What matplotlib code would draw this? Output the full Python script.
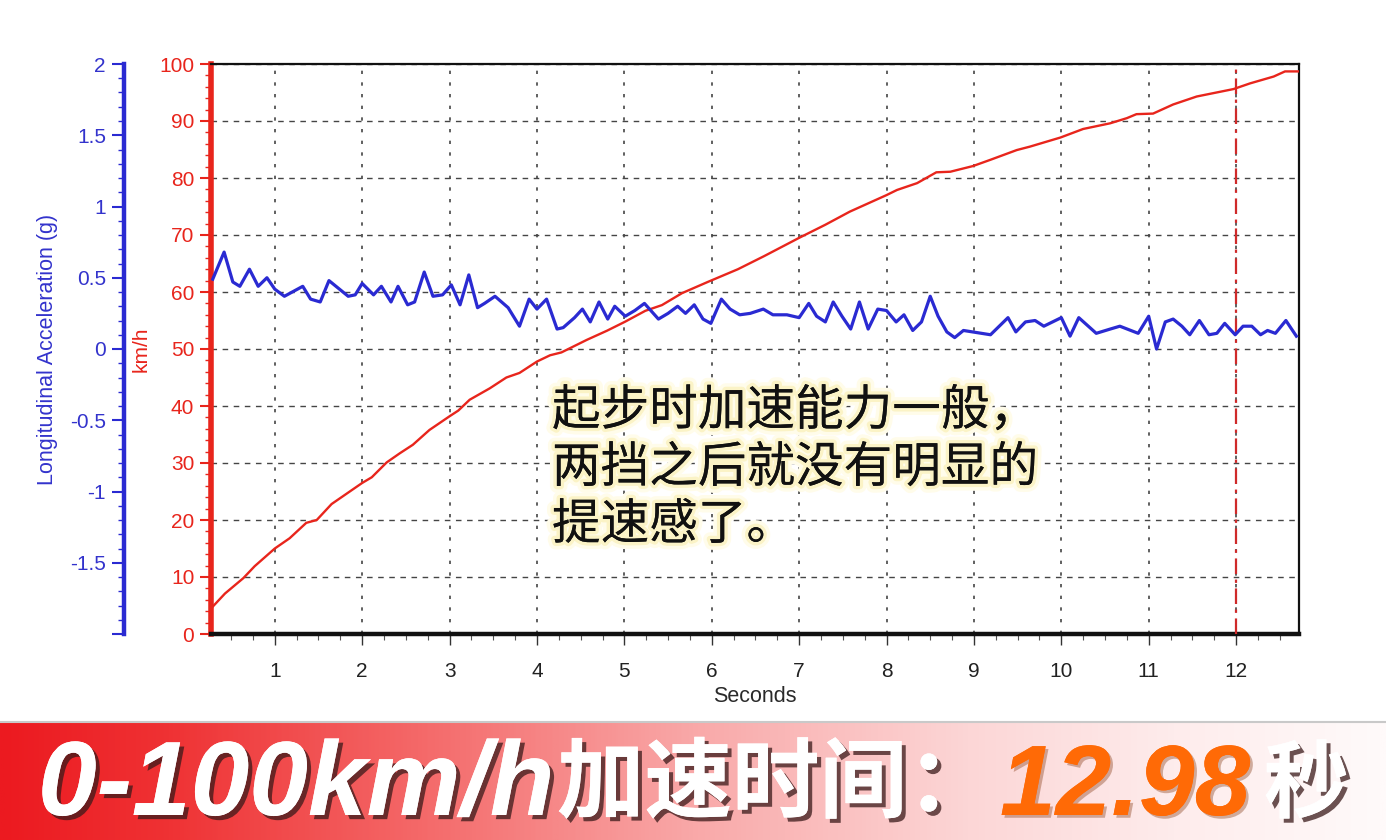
import numpy as np
import matplotlib
matplotlib.use('Agg')
import matplotlib.pyplot as plt
import matplotlib.patheffects as pe
from matplotlib.ticker import MultipleLocator, FuncFormatter
from matplotlib.colors import LinearSegmentedColormap
from matplotlib.lines import Line2D

plt.rcParams['font.family'] = ['Liberation Sans', 'Noto Sans CJK SC', 'DejaVu Sans']

# ---------------- data ----------------
speed_t = [0.29, 0.43, 0.64, 0.77, 1.0, 1.17, 1.36, 1.48, 1.65, 2.0, 2.11, 2.28, 2.43, 2.58, 2.77,
           3.0, 3.10, 3.23, 3.46, 3.65, 3.80, 4.0, 4.15, 4.28, 4.57, 4.8, 5.01, 5.24, 5.43, 5.66,
           5.96, 6.3, 6.6, 7.0, 7.3, 7.58, 8.0, 8.12, 8.35, 8.57, 8.73, 8.99, 9.19, 9.49, 9.64,
           9.99, 10.25, 10.56, 10.75, 10.86, 11.05, 11.28, 11.55, 11.97, 12.16, 12.43, 12.56, 12.71]
speed_kmh = [4.8, 7.1, 9.8, 11.9, 15.0, 16.8, 19.5, 20.0, 22.8, 26.5, 27.5, 30.1, 31.7, 33.2, 35.8,
             38.2, 39.2, 41.1, 43.1, 45.0, 45.8, 47.8, 48.9, 49.4, 51.6, 53.2, 54.8, 56.7, 57.7, 59.8,
             61.8, 64.0, 66.3, 69.5, 71.8, 74.1, 77.0, 77.9, 79.1, 81.0, 81.1, 82.1, 83.2, 84.9, 85.5,
             87.1, 88.6, 89.6, 90.5, 91.2, 91.3, 92.9, 94.3, 95.6, 96.6, 97.8, 98.7, 98.7]

accel_t = [0.29, 0.42, 0.52, 0.60, 0.71, 0.81, 0.91, 1.00, 1.11, 1.32, 1.41, 1.52, 1.62, 1.84, 1.92,
           2.00, 2.13, 2.22, 2.33, 2.41, 2.52, 2.60, 2.71, 2.81, 2.92, 3.02, 3.12, 3.22, 3.32, 3.40,
           3.52, 3.67, 3.80, 3.91, 4.00, 4.11, 4.23, 4.30, 4.43, 4.52, 4.61, 4.71, 4.81, 4.89, 5.01,
           5.12, 5.23, 5.39, 5.50, 5.61, 5.70, 5.80, 5.90, 5.99, 6.11, 6.21, 6.32, 6.44, 6.59, 6.70,
           6.86, 7.00, 7.11, 7.20, 7.30, 7.39, 7.49, 7.59, 7.69, 7.79, 7.90, 8.00, 8.11, 8.20, 8.30,
           8.40, 8.50, 8.59, 8.69, 8.78, 8.88, 9.19, 9.39, 9.48, 9.59, 9.70, 9.80, 9.90, 10.00, 10.10,
           10.20, 10.40, 10.56, 10.67, 10.88, 11.00, 11.09, 11.19, 11.28, 11.38, 11.47, 11.58, 11.69,
           11.78, 11.87, 11.99, 12.08, 12.18, 12.28, 12.36, 12.45, 12.57, 12.69]
accel_g = [0.49, 0.68, 0.47, 0.44, 0.56, 0.44, 0.50, 0.42, 0.37, 0.44, 0.35, 0.33, 0.48, 0.37, 0.38,
           0.46, 0.38, 0.44, 0.33, 0.44, 0.31, 0.33, 0.54, 0.37, 0.38, 0.45, 0.31, 0.52, 0.29, 0.32,
           0.37, 0.29, 0.16, 0.35, 0.28, 0.35, 0.14, 0.15, 0.22, 0.28, 0.19, 0.33, 0.21, 0.30, 0.23,
           0.27, 0.32, 0.21, 0.25, 0.30, 0.25, 0.31, 0.21, 0.18, 0.35, 0.28, 0.24, 0.25, 0.28, 0.24,
           0.24, 0.22, 0.32, 0.23, 0.19, 0.33, 0.23, 0.14, 0.33, 0.14, 0.28, 0.27, 0.19, 0.24, 0.13,
           0.19, 0.37, 0.23, 0.12, 0.08, 0.13, 0.10, 0.22, 0.12, 0.19, 0.20, 0.16, 0.19, 0.22, 0.09,
           0.22, 0.11, 0.14, 0.16, 0.11, 0.23, 0.00, 0.19, 0.21, 0.16, 0.10, 0.20, 0.10,
           0.11, 0.18, 0.10, 0.16, 0.16, 0.10, 0.13, 0.11, 0.20, 0.09]

x_ticks = list(range(1, 13))
kmh_ticks = list(range(0, 101, 10))
g_ticks = [-2, -1.5, -1, -0.5, 0, 0.5, 1, 1.5, 2]
marker_time = 12
x_label = 'Seconds'
kmh_label = 'km/h'
g_label = 'Longitudinal Acceleration (g)'
note_lines = ['起步时加速能力一般，', '两挡之后就没有明显的', '提速感了。']
banner_parts = ['0-100km/h', '加速时间：', '12.98', '秒']

# ---------------- figure ----------------
W, H = 1386, 840
fig = plt.figure(figsize=(W / 100, H / 100), dpi=100)
fig.patch.set_facecolor('white')

def fy(px):
    return 1 - px / H

L, R, T, B = 211, 1299, 64, 634
ax = fig.add_axes([L / W, fy(B), (R - L) / W, (B - T) / H])
RED = '#e8251c'
BLUE = '#2a2ad2'

ax.set_xlim(0.27, 12.72)
ax.set_ylim(0, 100)
ax.plot(speed_t, speed_kmh, color=RED, lw=1.7, zorder=4)
ax.axvline(marker_time, color='#cf2a2a', lw=1.6, ls=(0, (7, 2.5, 1.5, 2.5)), zorder=3)

ax.set_xticks(x_ticks)
ax.xaxis.set_minor_locator(MultipleLocator(0.25))
ax.set_yticks(kmh_ticks)
ax.yaxis.set_minor_locator(MultipleLocator(2))
ax.xaxis.grid(True, which='major', color='#454545', ls=(0, (2, 5)), lw=1.2)
ax.yaxis.grid(True, which='major', color='#454545', ls=(0, (4, 4)), lw=1.0)
ax.set_axisbelow(True)

ax.tick_params(axis='y', which='major', colors=RED, length=8, width=1.5, labelsize=15, pad=4)
ax.tick_params(axis='y', which='minor', colors=RED, length=4, width=1)
ax.tick_params(axis='x', which='major', length=8, width=1, color='#333333',
               labelcolor='#222222', labelsize=15, pad=12)
ax.tick_params(axis='x', which='minor', length=4, width=0.8, color='#555555')

for s in ['top', 'right']:
    ax.spines[s].set_color('#111111')
    ax.spines[s].set_linewidth(1.6)
ax.spines['bottom'].set_color('#111111')
ax.spines['bottom'].set_linewidth(3.2)
ax.spines['left'].set_color(RED)
ax.spines['left'].set_linewidth(4)

ax.set_xlabel(x_label, fontsize=15.5, color='#2a2a2a', labelpad=4)
ax.set_ylabel(kmh_label, fontsize=15, color=RED)
ax.yaxis.set_label_coords((151 - L) / (R - L), 0.5)

# acceleration axis (left, outward)
ax2 = ax.twinx()
ax2.set_ylim(-2, 2)
ax2.plot(accel_t, accel_g, color=BLUE, lw=2.3, zorder=5)
for s in ['top', 'bottom', 'right']:
    ax2.spines[s].set_visible(False)
ax2.spines['left'].set_visible(True)
ax2.spines['left'].set_position(('axes', (124 - L) / (R - L)))
ax2.spines['left'].set_color(BLUE)
ax2.spines['left'].set_linewidth(3.2)
ax2.yaxis.tick_left()
ax2.yaxis.set_label_position('left')
ax2.set_yticks(g_ticks)
ax2.yaxis.set_minor_locator(MultipleLocator(0.1))
ax2.yaxis.set_major_formatter(FuncFormatter(lambda v, p: '' if abs(v + 2) < 1e-9 else f'{v:g}'))
ax2.tick_params(axis='y', which='major', colors=BLUE, labelcolor='#3333cc', length=9, width=1.5,
                labelsize=15, pad=4)
ax2.tick_params(axis='y', which='minor', colors=BLUE, length=4, width=1)
ax2.set_ylabel(g_label, fontsize=15.5, color='#3333cc')
ax2.yaxis.set_label_coords((58 - L) / (R - L), 0.5)

# annotation text with pale-yellow glow
note_baselines = [425, 482, 539]
for line, yb in zip(note_lines, note_baselines):
    fig.text(552 / W, fy(yb), line, fontsize=35, color='#111111', weight='light',
             family=['Noto Sans CJK SC', 'DejaVu Sans'], ha='left', va='baseline', zorder=10,
             path_effects=[pe.withStroke(linewidth=10, foreground='#fffcea'),
                           pe.withStroke(linewidth=5, foreground='#fbf3c6'),
                           pe.Normal()])

# ---------------- banner ----------------
btop = 722
bax = fig.add_axes([0, 0, 1, (H - btop) / H])
cmap = LinearSegmentedColormap.from_list('band', [
    (0.0, '#ec1a20'), (0.12, '#ef3234'), (0.3, '#f46868'), (0.5, '#f9a8a8'),
    (0.7, '#fcd6d6'), (0.85, '#feecec'), (1.0, '#fffafa')])
grad = np.linspace(0, 1, 600).reshape(1, -1)
bax.imshow(grad, cmap=cmap, aspect='auto', extent=[0, 1, 0, 1])
bax.set_xlim(0, 1)
bax.set_ylim(0, 1)
bax.axis('off')
fig.add_artist(Line2D([0, 1], [fy(btop), fy(btop)], color='#c9c9c9', lw=1.5))

shadow = [pe.withSimplePatchShadow(offset=(3, -3), shadow_rgbFace='#3a1a1a', alpha=0.75), pe.Normal()]
latin = ['Liberation Sans', 'DejaVu Sans']
cjk = ['Noto Sans CJK SC', 'DejaVu Sans']
base = 815
fig.text(38 / W, fy(base), banner_parts[0], fontsize=76, weight='bold', style='italic',
         color='white', family=latin, va='baseline', ha='left', path_effects=shadow, zorder=20)
fig.text(557 / W, fy(base - 4), banner_parts[1], fontsize=63, weight='bold',
         color='white', family=cjk, va='baseline', ha='left', path_effects=shadow, zorder=20)
fig.text(1000 / W, fy(base), banner_parts[2], fontsize=72, weight='bold', style='italic',
         color='#ff6a06', family=latin, va='baseline', ha='left',
         path_effects=[pe.withSimplePatchShadow(offset=(2, -2), shadow_rgbFace='#7a2a00', alpha=0.35),
                       pe.Normal()], zorder=20)
fig.text(1264 / W, fy(base - 4), banner_parts[3], fontsize=61, weight='bold',
         color='white', family=cjk, va='baseline', ha='left', path_effects=shadow, zorder=20)

fig.savefig('out.png', dpi=100, facecolor='white')
